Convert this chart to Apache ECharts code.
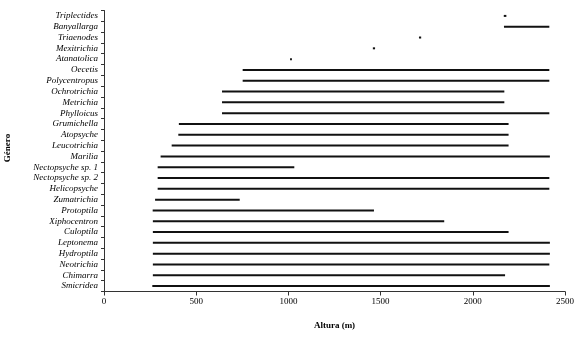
<!DOCTYPE html>
<html>
<head>
<meta charset="utf-8">
<script src="https://cdn.jsdelivr.net/npm/echarts@6/dist/echarts.min.js"></script>
<style>html,body{margin:0;padding:0;background:#fff}#c{width:580px;height:346px}</style>
</head>
<body>
<div id="c"></div>
<script>
// Genera, bottom to top
const genera = ['Smicridea','Chimarra','Neotrichia','Hydroptila','Leptonema','Culoptila','Xiphocentron','Protoptila','Zumatrichia','Helicopsyche','Nectopsyche sp. 2','Nectopsyche sp. 1','Marilia','Leucotrichia','Atopsyche','Grumichella','Phylloicus','Metrichia','Ochrotrichia','Polycentropus','Oecetis','Atanatolica','Mexitrichia','Triaenodes','Banyallarga','Triplectides'];
const minAltitude = [262,265,265,265,265,265,265,264,277,291,291,291,307,367,403,406,640,640,640,752,752,1009,1458,1708,2169,2168];
const maxAltitude = [2418,2175,2415,2418,2418,2194,1845,1464,736,2415,2415,1032,2418,2194,2194,2194,2415,2171,2171,2415,2415,1019,1470,1720,2415,2182];
const xTicks = [0,500,1000,1500,2000,2500];

const data = genera.map((g,i)=>[minAltitude[i], maxAltitude[i], i]);
const chart = echarts.init(document.getElementById('c'), null, {renderer:'canvas'});
const serif = '"Liberation Serif","DejaVu Serif",serif';
chart.setOption({
  animation:false,
  backgroundColor:'#fff',
  grid:{left:104,right:15,top:10.5,bottom:54.5},
  xAxis:{type:'value',min:xTicks[0],max:xTicks[xTicks.length-1],interval:500,
    axisLine:{show:true,lineStyle:{color:'#333',width:1}},
    axisTick:{show:true,length:4,lineStyle:{color:'#333'}},
    splitLine:{show:false},
    axisLabel:{color:'#000',fontFamily:serif,fontSize:9,margin:6,formatter:function(v){return String(v);}},
    name:'Altura (m)',nameLocation:'middle',nameGap:30,
    nameTextStyle:{color:'#000',fontFamily:serif,fontSize:9,fontWeight:'bold'}
  },
  yAxis:{type:'category',data:genera,
    axisLine:{show:true,lineStyle:{color:'#333',width:1}},
    axisTick:{show:true,length:3,lineStyle:{color:'#333'}},
    axisLabel:{color:'#000',fontFamily:serif,fontSize:9,fontStyle:'italic',margin:6,interval:0}
  },
  graphic:[{type:'text',x:8,y:148,rotation:Math.PI/2,
    style:{text:'Género',font:'bold 9px '+serif,fill:'#000',align:'center',verticalAlign:'middle'}}],
  series:[{type:'custom',
    renderItem:function(params,api){
      const p1=api.coord([api.value(0),api.value(2)]);
      const p2=api.coord([api.value(1),api.value(2)]);
      return {type:'line',shape:{x1:p1[0],y1:p1[1],x2:p2[0],y2:p2[1]},
        style:{stroke:'#111',lineWidth:2}};
    },
    encode:{x:[0,1],y:2},
    data:data
  }]
});
</script>
</body>
</html>
